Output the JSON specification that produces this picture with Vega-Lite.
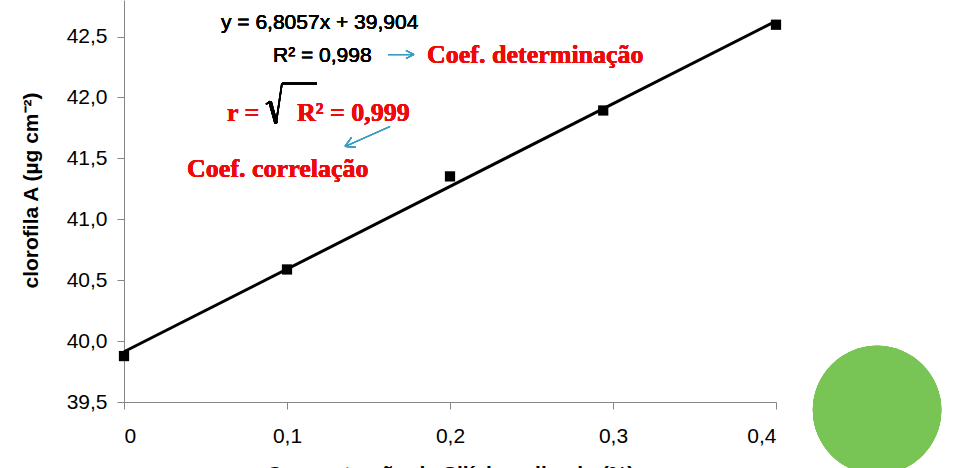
{
  "$schema": "https://vega.github.io/schema/vega-lite/v6.json",
  "width": 652,
  "height": 402,
  "autosize": {"type": "none"},
  "padding": {"left": 124, "top": 0, "right": 184, "bottom": 66},
  "background": "white",
  "config": {
    "view": {"stroke": null},
    "text": {"fontWeight": 400},
    "axis": {
      "grid": false,
      "domainColor": "#868686",
      "tickColor": "#868686",
      "labelColor": "#000000",
      "labelFont": "Liberation Sans",
      "labelFontSize": 21,
      "titleFont": "Liberation Sans",
      "titleFontSize": 21,
      "titleFontWeight": "bold",
      "titleColor": "#000000",
      "tickSize": 7
    }
  },
  "data": {
    "values": [
      {"x": 0, "y": 39.877},
      {"x": 0.1, "y": 40.588},
      {"x": 0.2, "y": 41.352},
      {"x": 0.294, "y": 41.893},
      {"x": 0.4, "y": 42.597}
    ]
  },
  "encoding": {
    "x": {
      "field": "x",
      "type": "quantitative",
      "scale": {"domain": [0, 0.4], "nice": false, "zero": false},
      "axis": {
        "values": [0, 0.1, 0.2, 0.3, 0.4],
        "labelExpr": "datum.value == 0 ? '0' : replace(format(datum.value, '.1f'), '.', ',')",
        "labelPadding": 16,
        "title": "Concentração de Silício aplicado (%)",
        "titleBaseline": "alphabetic",
        "titleY": 78
      }
    },
    "y": {
      "field": "y",
      "type": "quantitative",
      "scale": {"domain": [39.5, 42.8], "nice": false, "zero": false},
      "axis": {
        "values": [39.5, 40, 40.5, 41, 41.5, 42, 42.5],
        "labelExpr": "replace(format(datum.value, '.1f'), '.', ',')",
        "labelPadding": 10,
        "title": "clorofila A (µg cm⁻²)",
        "titleX": -93,
        "titleY": 190,
        "titleAlign": "center",
        "titleBaseline": "middle",
        "titleAngle": -90
      }
    }
  },
  "layer": [
    {
      "transform": [{"regression": "y", "on": "x", "extent": [0, 0.4]}],
      "mark": {"type": "line", "color": "#000000", "strokeWidth": 3}
    },
    {
      "mark": {"type": "point", "shape": "square", "filled": true, "color": "#000000", "size": 105, "opacity": 1}
    },
    {
      "mark": {"type": "point", "shape": "circle", "filled": true, "color": "#78c455", "size": 16500, "opacity": 1, "clip": false},
      "encoding": {"x": {"datum": 0.462}, "y": {"datum": 39.434}}
    },
    {
      "mark": {"type": "text", "align": "left", "baseline": "alphabetic", "font": "Liberation Sans", "fontSize": 21, "fontWeight": 400, "color": "#000000"},
      "encoding": {"x": {"datum": 0.0595}, "y": {"datum": 42.566}, "text": {"value": "y = 6,8057x + 39,904"}}
    },
    {
      "mark": {"type": "text", "align": "left", "baseline": "alphabetic", "font": "Liberation Sans", "fontSize": 21, "fontWeight": 400, "color": "#000000"},
      "encoding": {"x": {"datum": 0.0914}, "y": {"datum": 42.287}, "text": {"value": "R² = 0,998"}}
    },
    {
      "mark": {"type": "rule", "color": "#3b9cc0", "strokeWidth": 1.2},
      "encoding": {"x": {"datum": 0.162}, "x2": {"datum": 0.1779}, "y": {"datum": 42.352}, "y2": {"datum": 42.352}}
    },
    {
      "mark": {"type": "rule", "color": "#3b9cc0", "strokeWidth": 1.2},
      "encoding": {"x": {"datum": 0.173}, "x2": {"datum": 0.1779}, "y": {"datum": 42.385}, "y2": {"datum": 42.352}}
    },
    {
      "mark": {"type": "rule", "color": "#3b9cc0", "strokeWidth": 1.2},
      "encoding": {"x": {"datum": 0.173}, "x2": {"datum": 0.1779}, "y": {"datum": 42.320}, "y2": {"datum": 42.352}}
    },
    {
      "mark": {"type": "text", "align": "left", "baseline": "alphabetic", "font": "Liberation Serif", "fontSize": 26, "fontWeight": "bold", "color": "#ee0a0a"},
      "encoding": {"x": {"datum": 0.1859}, "y": {"datum": 42.28}, "text": {"value": "Coef. determinação"}}
    },
    {
      "mark": {"type": "text", "align": "left", "baseline": "alphabetic", "font": "Liberation Serif", "fontSize": 26, "fontWeight": "bold", "color": "#ee0a0a"},
      "encoding": {"x": {"datum": 0.0632}, "y": {"datum": 41.803}, "text": {"value": "r ="}}
    },
    {
      "mark": {"type": "rule", "color": "#000000", "strokeWidth": 1.5},
      "encoding": {"x": {"datum": 0.0871}, "x2": {"datum": 0.0896}, "y": {"datum": 41.943}, "y2": {"datum": 41.967}}
    },
    {
      "mark": {"type": "rule", "color": "#000000", "strokeWidth": 3.5},
      "encoding": {"x": {"datum": 0.0896}, "x2": {"datum": 0.0933}, "y": {"datum": 41.967}, "y2": {"datum": 41.787}}
    },
    {
      "mark": {"type": "rule", "color": "#000000", "strokeWidth": 1.6},
      "encoding": {"x": {"datum": 0.0933}, "x2": {"datum": 0.0969}, "y": {"datum": 41.787}, "y2": {"datum": 42.115}}
    },
    {
      "mark": {"type": "rule", "color": "#000000", "strokeWidth": 2},
      "encoding": {"x": {"datum": 0.0969}, "x2": {"datum": 0.1184}, "y": {"datum": 42.115}, "y2": {"datum": 42.115}}
    },
    {
      "mark": {"type": "text", "align": "left", "baseline": "alphabetic", "font": "Liberation Serif", "fontSize": 26, "fontWeight": "bold", "color": "#ee0a0a"},
      "encoding": {"x": {"datum": 0.1061}, "y": {"datum": 41.803}, "text": {"value": "R² = 0,999"}}
    },
    {
      "mark": {"type": "rule", "color": "#3b9cc0", "strokeWidth": 1.2},
      "encoding": {"x": {"datum": 0.1632}, "x2": {"datum": 0.1356}, "y": {"datum": 41.762}, "y2": {"datum": 41.598}}
    },
    {
      "mark": {"type": "rule", "color": "#3b9cc0", "strokeWidth": 1.2},
      "encoding": {"x": {"datum": 0.1423}, "x2": {"datum": 0.1356}, "y": {"datum": 41.590}, "y2": {"datum": 41.598}}
    },
    {
      "mark": {"type": "rule", "color": "#3b9cc0", "strokeWidth": 1.2},
      "encoding": {"x": {"datum": 0.1396}, "x2": {"datum": 0.1356}, "y": {"datum": 41.672}, "y2": {"datum": 41.598}}
    },
    {
      "mark": {"type": "text", "align": "left", "baseline": "alphabetic", "font": "Liberation Serif", "fontSize": 26, "fontWeight": "bold", "color": "#ee0a0a"},
      "encoding": {"x": {"datum": 0.0387}, "y": {"datum": 41.344}, "text": {"value": "Coef. correlação"}}
    }
  ]
}
